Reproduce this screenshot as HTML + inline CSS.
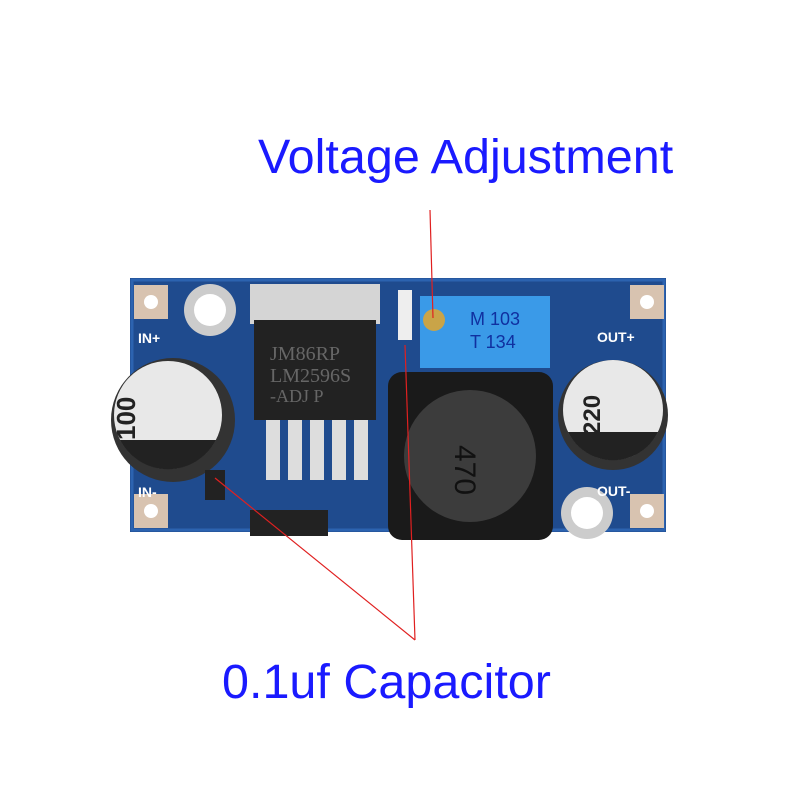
<!DOCTYPE html>
<html><head><style>
body{margin:0;width:800px;height:800px;background:#fff;position:relative;overflow:hidden;font-family:"Liberation Sans",sans-serif}
.a{position:absolute}
.t{color:#1a1aff;font-size:48.5px;white-space:nowrap}
</style></head><body>
<div class="a t" style="left:258px;top:129px">Voltage Adjustment</div>
<div class="a t" style="left:222px;top:654px">0.1uf Capacitor</div>
<svg class="a" style="left:0;top:0" width="800" height="800">
<rect x="130" y="278" width="536" height="254" fill="#1f4b8e"/>
<rect x="132" y="280" width="532" height="250" fill="none" stroke="#2c63b0" stroke-width="3"/>
<rect x="134" y="285" width="34" height="34" fill="#d8c3b0"/><circle cx="151" cy="302" r="7" fill="#fff"/>
<rect x="134" y="494" width="34" height="34" fill="#d8c3b0"/><circle cx="151" cy="511" r="7" fill="#fff"/>
<rect x="630" y="285" width="34" height="34" fill="#d8c3b0"/><circle cx="647" cy="302" r="7" fill="#fff"/>
<rect x="630" y="494" width="34" height="34" fill="#d8c3b0"/><circle cx="647" cy="511" r="7" fill="#fff"/>
<circle cx="210" cy="310" r="26" fill="#ccc"/><circle cx="210" cy="310" r="16" fill="#fff"/>
<circle cx="587" cy="513" r="26" fill="#ccc"/><circle cx="587" cy="513" r="16" fill="#fff"/>
<rect x="250" y="284" width="130" height="40" fill="#d5d5d5"/>
<rect x="254" y="320" width="122" height="100" fill="#222"/>
<g fill="#ddd"><rect x="266" y="420" width="14" height="60"/><rect x="288" y="420" width="14" height="60"/><rect x="310" y="420" width="14" height="60"/><rect x="332" y="420" width="14" height="60"/><rect x="354" y="420" width="14" height="60"/></g>
<text x="270" y="360" font-family="Liberation Serif" font-size="20" fill="#666">JM86RP</text>
<text x="270" y="382" font-family="Liberation Serif" font-size="20" fill="#666">LM2596S</text>
<text x="270" y="402" font-family="Liberation Serif" font-size="18" fill="#666">-ADJ  P</text>
<rect x="250" y="510" width="78" height="26" fill="#222"/>
<rect x="420" y="296" width="130" height="72" fill="#3a9ae8"/>
<circle cx="434" cy="320" r="11" fill="#c9a448"/>
<text x="470" y="325" font-size="18" fill="#1030a0">M 103</text>
<text x="470" y="348" font-size="18" fill="#1030a0">T 134</text>
<rect x="388" y="372" width="165" height="168" rx="14" fill="#1a1a1a"/>
<circle cx="470" cy="456" r="66" fill="#3c3c3c"/>
<text x="450" y="470" font-size="30" fill="#111" transform="rotate(90 465 460)">470</text>
<circle cx="173" cy="420" r="62" fill="#333"/>
<circle cx="168" cy="415" r="54" fill="#e8e8e8"/>
<path d="M120 440 A54 54 0 0 0 216 440 Z" fill="#222"/>
<text x="130" y="405" font-size="26" font-weight="bold" fill="#222" transform="rotate(-90 150 420)">100</text>
<circle cx="613" cy="415" r="55" fill="#333"/>
<circle cx="613" cy="410" r="50" fill="#e8e8e8"/>
<path d="M568 432 A50 50 0 0 0 658 432 Z" fill="#222"/>
<text x="580" y="405" font-size="24" font-weight="bold" fill="#222" transform="rotate(-90 605 410)">220</text>
<g font-size="14" font-weight="bold" fill="#fff">
<text x="138" y="343">IN+</text><text x="138" y="497">IN-</text>
<text x="597" y="342">OUT+</text><text x="597" y="496">OUT-</text></g>
<rect x="205" y="470" width="20" height="30" fill="#222"/>
<rect x="398" y="290" width="14" height="50" fill="#eee"/>
<g stroke="#e02020" stroke-width="1.2">
<line x1="430" y1="210" x2="433" y2="318"/>
<line x1="405" y1="345" x2="415" y2="640"/>
<line x1="215" y1="478" x2="415" y2="640"/>
</g>
</svg>
</body></html>
